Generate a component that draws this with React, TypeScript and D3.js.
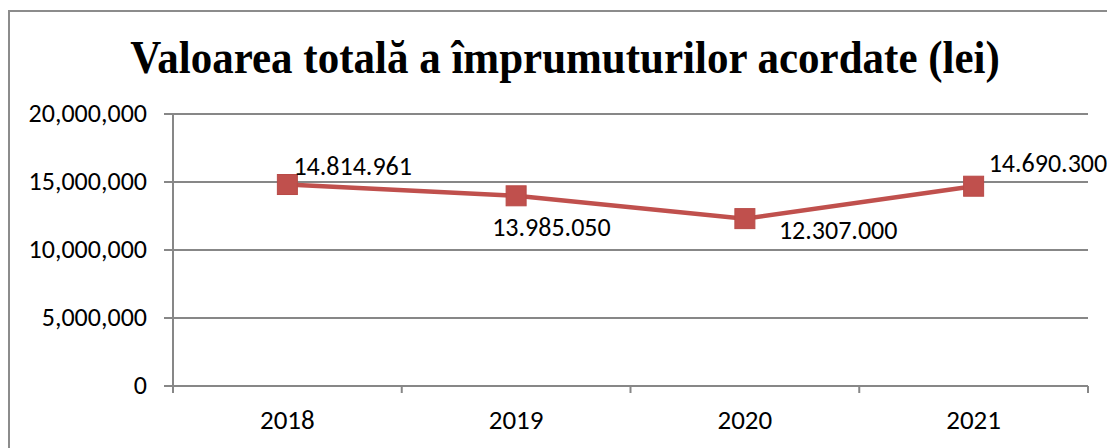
import { useEffect, useRef } from 'react';
import * as d3 from 'd3';

const years = ['2018', '2019', '2020', '2021'];
const totals = [14814961, 13985050, 12307000, 14690300];
const labels = ['14.814.961', '13.985.050', '12.307.000', '14.690.300'];
const yTicks = [0, 5000000, 10000000, 15000000, 20000000];

export default function App() {
  const svgRef = useRef<SVGSVGElement>(null);

  useEffect(() => {
    if (!svgRef.current) return;
    const svg = d3.select(svgRef.current);
    svg.selectAll('*').remove();

    const width = 1107;
    const height = 448;
    const left = 173, right = 1088, top = 114, bottom = 386;
    const font = 'Carlito, Lato, "Liberation Sans", sans-serif';
    const axisColor = '#878787';

    svg.append('rect').attr('width', width).attr('height', height).attr('fill', '#fff');

    // outer chart frame (only left + top edges show)
    svg.append('rect')
      .attr('x', 9).attr('y', 11)
      .attr('width', width + 20).attr('height', height + 20)
      .attr('fill', 'none')
      .attr('stroke', '#8c8c8c')
      .attr('stroke-width', 2);

    // title, slightly stretched vertically like the original
    svg.append('text')
      .attr('transform', 'translate(565,73) scale(1,1.09)')
      .attr('text-anchor', 'middle')
      .attr('font-family', '"Liberation Serif", "Times New Roman", serif')
      .attr('font-weight', 'bold')
      .attr('font-size', '43px')
      .attr('fill', '#000')
      .text('Valoarea totală a împrumuturilor acordate (lei)');

    const x = d3.scaleBand().domain(years).range([left, right]);
    const y = d3.scaleLinear().domain([0, 20000000]).range([bottom, top]);

    // gridlines + y ticks
    const grid = svg.append('g');
    yTicks.forEach((t) => {
      grid.append('line')
        .attr('x1', left - 9).attr('x2', right)
        .attr('y1', y(t)).attr('y2', y(t))
        .attr('stroke', axisColor).attr('stroke-width', 2);
      grid.append('text')
        .attr('x', 147).attr('y', y(t) + 8)
        .attr('text-anchor', 'end')
        .attr('font-family', font)
        .attr('font-size', '26px')
        .attr('fill', '#000')
        .text(d3.format(',')(t));
    });

    // y axis line
    svg.append('line')
      .attr('x1', left).attr('x2', left)
      .attr('y1', top).attr('y2', bottom + 7)
      .attr('stroke', axisColor).attr('stroke-width', 2);

    // x ticks
    const xTickPos = years.map((yr) => x(yr)!).concat([right]);
    xTickPos.forEach((p) => {
      svg.append('line')
        .attr('x1', p).attr('x2', p)
        .attr('y1', bottom).attr('y2', bottom + 7)
        .attr('stroke', axisColor).attr('stroke-width', 2);
    });

    years.forEach((yr) => {
      svg.append('text')
        .attr('x', x(yr)! + x.bandwidth() / 2)
        .attr('y', 429)
        .attr('text-anchor', 'middle')
        .attr('font-family', font)
        .attr('font-size', '27px')
        .attr('fill', '#000')
        .text(yr);
    });

    const cx = (i: number) => x(years[i])! + x.bandwidth() / 2;

    const line = d3.line<number>()
      .x((_, i) => cx(i))
      .y((d) => y(d));

    svg.append('path')
      .datum(totals)
      .attr('d', line)
      .attr('fill', 'none')
      .attr('stroke', '#c0504d')
      .attr('stroke-width', 4.5);

    const ms = 20;
    totals.forEach((v, i) => {
      svg.append('rect')
        .attr('x', cx(i) - ms / 2).attr('y', y(v) - ms / 2)
        .attr('width', ms).attr('height', ms)
        .attr('fill', '#c0504d')
        .attr('stroke', '#b84a47').attr('stroke-width', 1);
    });

    // data labels, offsets from each marker as in the original
    const labelPos = [
      { dx: 6, dy: -10 },
      { dx: -24, dy: 40 },
      { dx: 34, dy: 20 },
      { dx: 15, dy: -14 },
    ];
    totals.forEach((v, i) => {
      const p = labelPos[i];
      svg.append('text')
        .attr('x', cx(i) + p.dx)
        .attr('y', y(v) + p.dy)
        .attr('font-family', font)
        .attr('font-size', '26px')
        .attr('fill', '#000')
        .text(labels[i]);
    });
  }, []);

  return (
    <svg
      ref={svgRef}
      width={1107}
      height={448}
      style={{ position: 'absolute', left: 0, top: 0, display: 'block' }}
    />
  );
}
